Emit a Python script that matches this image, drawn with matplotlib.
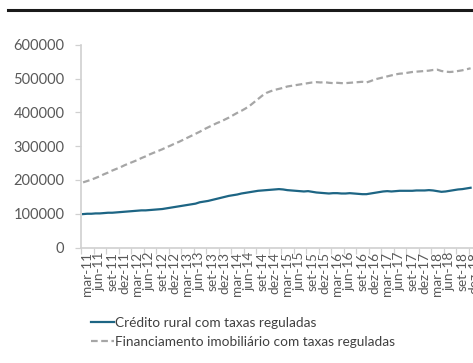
import matplotlib
matplotlib.use("Agg")
import matplotlib.pyplot as plt
from matplotlib.lines import Line2D

# Saldo mensal (R$ milhões), mar-11 em diante
credito_rural = [
    99, 100, 100, 101, 101, 102, 103, 103, 104, 105, 106, 107,
    108, 109, 110, 110, 111, 112, 113, 114, 116, 118, 120, 122,
    124, 126, 128, 130, 134, 136, 138, 141, 144, 147, 150, 153,
    155, 157, 160, 162, 164, 166, 168, 169, 170, 171, 172, 173,
    172, 170, 169, 168, 167, 166, 167, 165, 163, 162, 161, 160,
    161, 161, 160, 160, 161, 160, 159, 158, 158, 160, 162, 164,
    166, 167, 166, 167, 168, 168, 168, 168, 169, 169, 169, 170,
    169, 167, 165, 166, 168, 170, 172, 173, 175, 177,
]
financ_imob = [
    193, 197, 201, 206, 211, 217, 222, 228, 233, 238, 244, 249,
    254, 259, 265, 270, 276, 281, 286, 291, 297, 302, 308, 313,
    319, 325, 331, 337, 343, 350, 356, 362, 368, 373, 379, 385,
    392, 399, 405, 412, 420, 430, 440, 450, 458, 463, 467, 470,
    473, 477, 479, 481, 483, 485, 487, 489, 490, 489, 490, 488,
    487, 488, 487, 487, 488, 489, 490, 491, 489, 493, 498, 501,
    504, 507, 510, 513, 515, 516, 518, 520, 521, 522, 523, 524,
    526, 527, 523, 521, 520, 521, 523, 525, 528, 531,
]
credito_rural = [v * 1000 for v in credito_rural]
financ_imob = [v * 1000 for v in financ_imob]

quarter_labels = [
    "mar-11", "jun-11", "set-11", "dez-11", "mar-12", "jun-12", "set-12", "dez-12",
    "mar-13", "jun-13", "set-13", "dez-13", "mar-14", "jun-14", "set-14", "dez-14",
    "mar-15", "jun-15", "set-15", "dez-15", "mar-16", "jun-16", "set-16", "dez-16",
    "mar-17", "jun-17", "set-17", "dez-17", "mar-18", "jun-18", "set-18", "dez-18",
]
y_ticks = [0, 100000, 200000, 300000, 400000, 500000, 600000]

W, H = 473, 363
plt.rcParams["font.family"] = ["Lato", "DejaVu Sans"]

fig = plt.figure(figsize=(W / 100, H / 100), dpi=100)
fig.patch.set_facecolor("white")

# plot area runs past the right edge of the figure
left, right, top, bottom = 81, 481, 45, 247.5
ax = fig.add_axes([left / W, 1 - bottom / H, (right - left) / W, (bottom - top) / H])

months = list(range(len(credito_rural)))
ax.plot(months, credito_rural, color="#1d6584", lw=1.6,
        label="Crédito rural com taxas reguladas")
ax.plot(months, financ_imob, color="#a6a6a6", lw=1.6, dashes=(3, 1.6),
        label="Financiamento imobiliário com taxas reguladas")

ax.set_xlim(-0.5, 95.5)
ax.set_ylim(0, 600000)

axis_gray = "#d0d0d0"
text_gray = "#595959"
for s in ["top", "right"]:
    ax.spines[s].set_visible(False)
for s in ["left", "bottom"]:
    ax.spines[s].set_color(axis_gray)
    ax.spines[s].set_linewidth(1.2)

ax.set_yticks(y_ticks)
ax.set_yticklabels([str(v) for v in y_ticks])
ax.tick_params(axis="y", direction="out", length=4, width=0.9, color=axis_gray,
               labelsize=10.5, labelcolor=text_gray, pad=8)

# tick marks between quarters, labels centred in each quarter
ax.set_xticks([-0.5 + 3 * k for k in range(33)])
ax.set_xticklabels([])
ax.set_xticks([1 + 3 * k for k in range(len(quarter_labels))], minor=True)
ax.set_xticklabels(quarter_labels, minor=True, rotation=90)
ax.tick_params(axis="x", which="major", direction="out", length=4, width=0.9, color=axis_gray)
ax.tick_params(axis="x", which="minor", length=0, labelsize=9.8, labelcolor=text_gray, pad=3)

# separator line above the chart
fig.add_artist(Line2D([8 / W, 1], [1 - 9.5 / H] * 2, color="#1a1a1a", lw=2.2))

leg = fig.legend(loc="upper left", bbox_to_anchor=(91 / W, 1 - 317 / H), frameon=False,
                 fontsize=9.8, handlelength=1.7, handletextpad=0.05, labelspacing=0.5,
                 borderaxespad=0, borderpad=0)
for t in leg.get_texts():
    t.set_color("#404040")

fig.savefig("out.png", dpi=100)
